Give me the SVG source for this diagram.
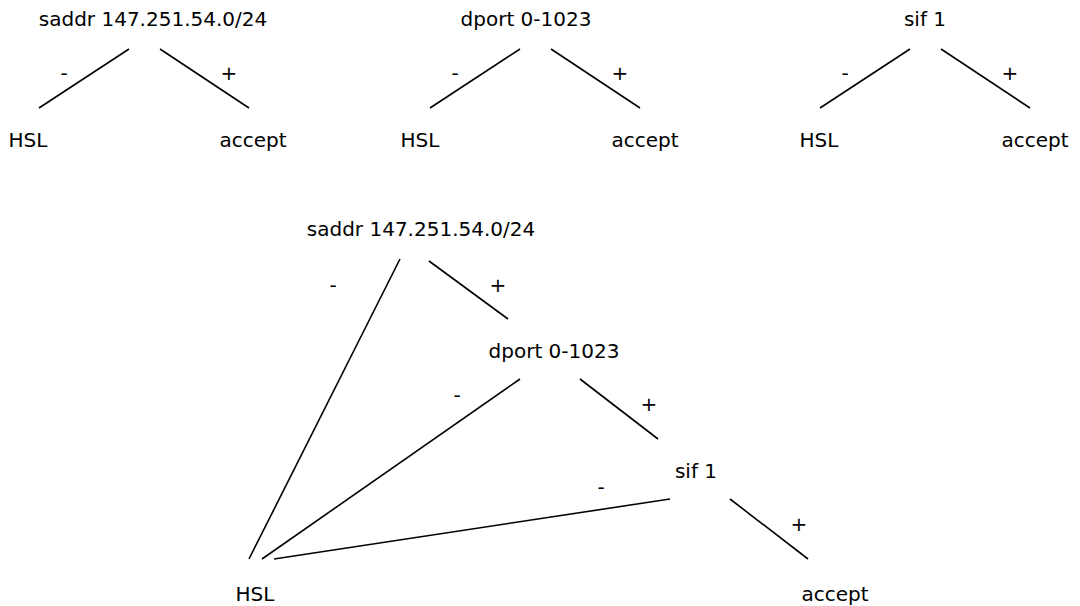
<svg xmlns="http://www.w3.org/2000/svg" width="1080" height="606" viewBox="0 0 1080 606">
<style>
text{font-family:"DejaVu Sans",sans-serif;font-size:20px;fill:#000;text-anchor:middle}
.e line{stroke:#000;stroke-width:1.6}
</style>
<rect width="1080" height="606" fill="#fff"/>
<g id="t1_saddr"><text x="153" y="26">saddr 147.251.54.0/24</text></g>
<g id="t1_hsl"><text x="28" y="147">HSL</text></g>
<g id="t1_accept"><text x="253" y="147">accept</text></g>
<g id="t2_dport"><text x="526" y="26">dport 0-1023</text></g>
<g id="t2_hsl"><text x="420" y="147">HSL</text></g>
<g id="t2_accept"><text x="645" y="147">accept</text></g>
<g id="t3_sif"><text x="925" y="26">sif 1</text></g>
<g id="t3_hsl"><text x="819" y="147">HSL</text></g>
<g id="t3_accept"><text x="1035" y="147">accept</text></g>
<g id="b_saddr"><text x="421" y="236">saddr 147.251.54.0/24</text></g>
<g id="b_dport"><text x="554" y="358">dport 0-1023</text></g>
<g id="b_sif"><text x="696" y="478">sif 1</text></g>
<g id="b_hsl"><text x="255" y="601">HSL</text></g>
<g id="b_accept"><text x="835" y="601">accept</text></g>
<g id="connectors" class="e">
<line x1="129" y1="49" x2="39" y2="108"/>
<line x1="160" y1="49" x2="249" y2="108"/>
<line x1="520" y1="49" x2="430" y2="108"/>
<line x1="551" y1="49" x2="640" y2="108"/>
<line x1="910" y1="49" x2="820" y2="108"/>
<line x1="941" y1="49" x2="1030" y2="108"/>
<line x1="400" y1="259" x2="249" y2="559"/>
<line x1="429" y1="261" x2="508" y2="319"/>
<line x1="520" y1="379" x2="262" y2="559"/>
<line x1="580" y1="379" x2="658" y2="439"/>
<line x1="670" y1="499" x2="274" y2="559"/>
<line x1="730" y1="499" x2="808" y2="559"/>
<text x="64" y="80">-</text>
<text x="229" y="80">+</text>
<text x="455" y="80">-</text>
<text x="620" y="80">+</text>
<text x="845" y="80">-</text>
<text x="1010" y="80">+</text>
<text x="333" y="292">-</text>
<text x="498" y="292">+</text>
<text x="457" y="402">-</text>
<text x="649" y="411">+</text>
<text x="601" y="494">-</text>
<text x="799" y="531">+</text>
</g>
</svg>
